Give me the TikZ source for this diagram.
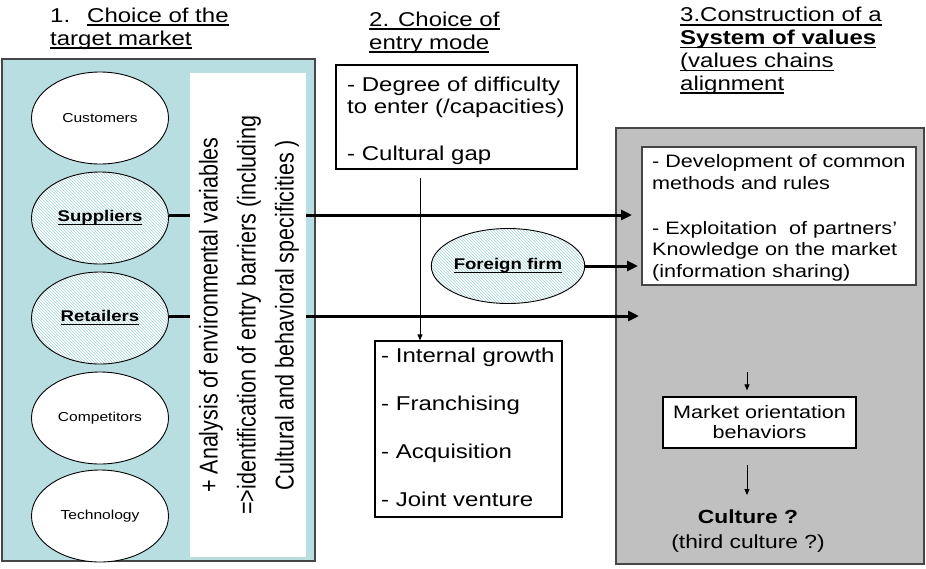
\documentclass[tikz,border=0pt]{standalone}
\usepackage{fontspec}
\usepackage{graphicx}
\setmainfont{Liberation Sans}[FakeStretch=1.2]
\newfontfamily\rotfont{Liberation Sans}
\usetikzlibrary{arrows.meta,patterns,shapes.geometric}
\definecolor{panelblue}{RGB}{184,222,225}
\definecolor{panelgray}{RGB}{192,192,192}
\definecolor{hatchblue}{RGB}{160,208,213}
\definecolor{edgegray}{RGB}{70,70,70}
\newcommand\myul[1]{\setbox0=\hbox{#1}\leavevmode\rlap{\rule[-3.6pt]{\wd0}{1.4pt}}\box0}
\begin{document}
\begin{tikzpicture}[x=1pt,y=-1pt,
  box/.style={draw, rectangle, inner sep=0pt},
  ellbase/.style={draw, ellipse, minimum width=137pt, minimum height=92pt, inner sep=0pt, line width=0.9pt},
  ell/.style={ellbase, fill=white, font=\fontsize{13}{15}\selectfont},
  hatched/.style={preaction={fill=white}, pattern=north west lines, pattern color=hatchblue, font=\fontsize{15.5}{17}\selectfont\bfseries},
  thickarrow/.style={line width=3pt, -{Triangle[length=11pt,width=10pt]}},
  thinarrow/.style={line width=1pt, -{Triangle[length=6pt,width=5pt]}},
  head/.style={anchor=base west, align=left, inner sep=0pt, font=\fontsize{20}{23}\selectfont},
  body/.style={anchor=base west, align=left, inner sep=0pt}]
\useasboundingbox (0,0) rectangle (926,568);
% panels
\node[box, draw=edgegray, line width=1.2pt, fill=panelblue, minimum width=313pt, minimum height=502pt] (panel) at (158.5,310) {};
\node[box, draw=edgegray, line width=1.2pt, fill=panelgray, minimum width=308pt, minimum height=436pt] (syspanel) at (770,346) {};
% ellipses
\node[ell] (cust) at (100,118) {Customers};
\node[ellbase, hatched] (sup) at (100,218) {\myul{Suppliers}};
\node[ellbase, hatched] (ret) at (100,318) {\myul{Retailers}};
\node[ell] (comp) at (100,418) {Competitors};
\node[ell] (tech) at (100,516) {Technology};
% thick arrows
\coordinate (supend) at (632,215);
\coordinate (retend) at (639,316);
\coordinate (ffend) at (638,266);
\draw[thickarrow] (sup.east |- supend) -- (supend);
\draw[thickarrow] (ret.east |- retend) -- (retend);
% analysis box
\node[fill=white, rotate=90, minimum width=484pt, minimum height=116pt, inner sep=0pt] (analysis) at (248,315)
  {\scalebox{1}[1.2]{\rotfont\fontsize{21.5}{31.7}\selectfont\begin{tabular}{@{}c@{}}+ Analysis of environmental variables\\ =>identification of entry barriers (including\\ Cultural and behavioral specificities )\end{tabular}}};
% entry mode boxes
\node[box, line width=1.5pt, minimum width=241pt, minimum height=104pt] (difficulty) at (456.5,117) {};
\node[body, font=\fontsize{20}{22}\selectfont] (difftext) at (347,160) {- Degree of difficulty\\to enter (/capacities)\\[25pt]- Cultural gap};
\node[box, line width=1.2pt, minimum width=187pt, minimum height=176pt] (modes) at (468.5,429) {};
\node[body, font=\fontsize{20}{48}\selectfont] (modestext) at (381,506) {- Internal growth\\- Franchising\\- Acquisition\\- Joint venture};
\coordinate (modex) at (420,250);
\draw[thinarrow, shorten <=8pt] (difficulty.south -| modex) -- (modes.north -| modex);
% foreign firm
\node[ellbase, hatched, minimum width=146pt, minimum height=75pt] (ff) at (508,266) {\myul{Foreign firm}};
\draw[thickarrow] (ff.east) -- (ffend);
% values
\node[box, draw=edgegray, line width=1.2pt, fill=white, minimum width=274pt, minimum height=138pt] (values) at (779,216) {};
\node[body, font=\fontsize{18}{21.5}\selectfont] (valuestext) at (652,277) {- Development of common\\methods and rules\\[23.5pt]- Exploitation\ \ of partners'\\Knowledge on the market\\(information sharing)};
\node[box, line width=1.2pt, fill=white, minimum width=193pt, minimum height=51pt, align=center, font=\fontsize{18}{20}\selectfont] (market) at (759.5,422.5) {Market orientation\\behaviors};
\node[anchor=base, align=center, inner sep=0pt, font=\fontsize{19}{25}\selectfont] (culture) at (748,548) {\textbf{Culture ?}\\(third culture ?)};
\coordinate (a1s) at (747,372);
\draw[thinarrow, shorten >=6pt] (a1s) -- (a1s |- market.north);
\coordinate (a2s) at (747,465);
\draw[thinarrow, shorten >=14pt] (a2s) -- (a2s |- culture.north);
% headers
\node[head] (h1) at (50,45) {1.\hspace{17pt}\myul{Choice of the}\\\myul{target market}};
\node[head] (h2) at (369,49) {\myul{2. Choice of}\\\myul{entry mode}};
\node[head, font=\fontsize{20}{22.7}\selectfont] (h3) at (680,90) {\myul{3.Construction of a}\\\myul{\textbf{System of values}}\\\myul{(values chains}\\\myul{alignment}};
\end{tikzpicture}
\end{document}
